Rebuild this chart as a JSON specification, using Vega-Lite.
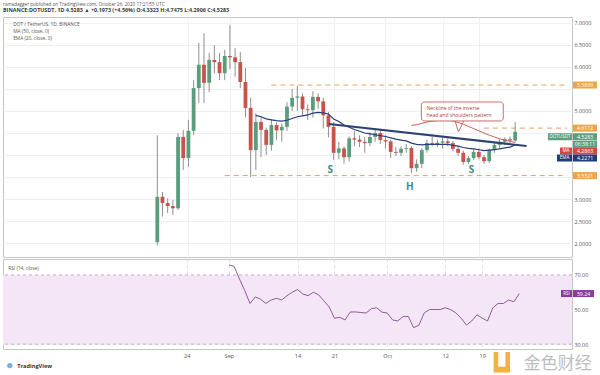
{
  "$schema": "https://vega.github.io/schema/vega-lite/v6.json",
  "background": "white",
  "padding": {"left": 2, "top": 2, "right": 0, "bottom": 0},
  "spacing": 0,
  "title": {
    "text": "ramadagger published on TradingView.com, October 26, 2020 17:21:55 UTC",
    "subtitle": "BINANCE:DOTUSDT, 1D  4.5283 ▲ +0.1973 (+4.56%)  O:4.3323  H:4.7475  L:4.2906  C:4.5283",
    "anchor": "start", "frame": "group", "offset": 3,
    "font": "Open Sans", "fontSize": 4.6, "fontWeight": "normal", "color": "#555555",
    "subtitleFont": "Open Sans", "subtitleFontSize": 5.4, "subtitleFontWeight": "bold", "subtitleColor": "#3a3a3a", "subtitlePadding": 1.5
  },
  "config": {
    "view": {"stroke": "#c6c6c6"},
    "font": "Open Sans",
    "axis": {"labelFont": "Open Sans", "labelFontSize": 5.4, "labelColor": "#555555", "gridColor": "#efefef", "domain": false, "ticks": false, "title": null, "labelOverlap": false}
  },
  "datasets": {
    "candles": [
      {"d":"2020-08-18","o":2.02,"h":4.45,"l":1.95,"c":3.05},
      {"d":"2020-08-19","o":3.05,"h":3.16,"l":2.60,"c":2.91},
      {"d":"2020-08-20","o":2.91,"h":3.02,"l":2.68,"c":2.84},
      {"d":"2020-08-21","o":2.84,"h":2.98,"l":2.64,"c":2.79},
      {"d":"2020-08-22","o":2.79,"h":4.50,"l":2.75,"c":4.41},
      {"d":"2020-08-23","o":4.41,"h":4.57,"l":3.66,"c":3.93},
      {"d":"2020-08-24","o":3.93,"h":4.80,"l":3.73,"c":4.55},
      {"d":"2020-08-25","o":4.55,"h":5.70,"l":4.45,"c":5.52},
      {"d":"2020-08-26","o":5.52,"h":6.55,"l":5.18,"c":6.05},
      {"d":"2020-08-27","o":6.05,"h":6.77,"l":5.18,"c":5.64},
      {"d":"2020-08-28","o":5.64,"h":6.32,"l":5.43,"c":6.16},
      {"d":"2020-08-29","o":6.16,"h":6.50,"l":5.86,"c":6.11},
      {"d":"2020-08-30","o":6.11,"h":6.32,"l":5.70,"c":5.86},
      {"d":"2020-08-31","o":5.86,"h":6.39,"l":5.70,"c":6.25},
      {"d":"2020-09-01","o":6.25,"h":6.95,"l":5.95,"c":6.22},
      {"d":"2020-09-02","o":6.22,"h":6.43,"l":5.78,"c":6.11},
      {"d":"2020-09-03","o":6.11,"h":6.34,"l":5.52,"c":5.66},
      {"d":"2020-09-04","o":5.66,"h":5.98,"l":4.86,"c":5.07},
      {"d":"2020-09-05","o":5.07,"h":5.30,"l":3.50,"c":4.11},
      {"d":"2020-09-06","o":4.11,"h":4.95,"l":3.66,"c":4.75},
      {"d":"2020-09-07","o":4.75,"h":4.86,"l":3.95,"c":4.57},
      {"d":"2020-09-08","o":4.57,"h":4.62,"l":4.00,"c":4.23},
      {"d":"2020-09-09","o":4.23,"h":4.80,"l":4.10,"c":4.68},
      {"d":"2020-09-10","o":4.68,"h":4.75,"l":4.34,"c":4.56},
      {"d":"2020-09-11","o":4.56,"h":4.72,"l":4.30,"c":4.64},
      {"d":"2020-09-12","o":4.64,"h":5.20,"l":4.55,"c":5.10},
      {"d":"2020-09-13","o":5.10,"h":5.50,"l":5.00,"c":5.30},
      {"d":"2020-09-14","o":5.30,"h":5.57,"l":5.00,"c":5.33},
      {"d":"2020-09-15","o":5.33,"h":5.40,"l":4.90,"c":5.04},
      {"d":"2020-09-16","o":5.04,"h":5.15,"l":4.80,"c":5.02},
      {"d":"2020-09-17","o":5.02,"h":5.45,"l":4.85,"c":5.32},
      {"d":"2020-09-18","o":5.32,"h":5.40,"l":5.05,"c":5.22},
      {"d":"2020-09-19","o":5.22,"h":5.30,"l":4.60,"c":4.90},
      {"d":"2020-09-20","o":4.90,"h":4.98,"l":4.40,"c":4.64},
      {"d":"2020-09-21","o":4.64,"h":4.75,"l":3.89,"c":4.05},
      {"d":"2020-09-22","o":4.05,"h":4.30,"l":3.90,"c":4.15},
      {"d":"2020-09-23","o":4.15,"h":4.20,"l":3.80,"c":3.95},
      {"d":"2020-09-24","o":3.95,"h":4.42,"l":3.85,"c":4.38},
      {"d":"2020-09-25","o":4.38,"h":4.55,"l":4.20,"c":4.35},
      {"d":"2020-09-26","o":4.35,"h":4.45,"l":4.18,"c":4.30},
      {"d":"2020-09-27","o":4.30,"h":4.40,"l":4.05,"c":4.27},
      {"d":"2020-09-28","o":4.27,"h":4.52,"l":4.20,"c":4.41},
      {"d":"2020-09-29","o":4.41,"h":4.60,"l":4.30,"c":4.50},
      {"d":"2020-09-30","o":4.50,"h":4.56,"l":4.25,"c":4.34},
      {"d":"2020-10-01","o":4.34,"h":4.45,"l":4.15,"c":4.31},
      {"d":"2020-10-02","o":4.31,"h":4.35,"l":3.93,"c":4.07},
      {"d":"2020-10-03","o":4.07,"h":4.18,"l":3.98,"c":4.05},
      {"d":"2020-10-04","o":4.05,"h":4.20,"l":3.98,"c":4.14},
      {"d":"2020-10-05","o":4.14,"h":4.25,"l":4.05,"c":4.16},
      {"d":"2020-10-06","o":4.16,"h":4.20,"l":3.59,"c":3.70},
      {"d":"2020-10-07","o":3.70,"h":3.90,"l":3.62,"c":3.80},
      {"d":"2020-10-08","o":3.80,"h":4.15,"l":3.70,"c":4.11},
      {"d":"2020-10-09","o":4.11,"h":4.35,"l":4.05,"c":4.27},
      {"d":"2020-10-10","o":4.27,"h":4.42,"l":4.20,"c":4.25},
      {"d":"2020-10-11","o":4.25,"h":4.35,"l":4.18,"c":4.28},
      {"d":"2020-10-12","o":4.28,"h":4.40,"l":4.15,"c":4.31},
      {"d":"2020-10-13","o":4.31,"h":4.38,"l":4.20,"c":4.27},
      {"d":"2020-10-14","o":4.27,"h":4.32,"l":4.08,"c":4.14},
      {"d":"2020-10-15","o":4.14,"h":4.20,"l":3.98,"c":4.05},
      {"d":"2020-10-16","o":4.05,"h":4.10,"l":3.78,"c":3.84},
      {"d":"2020-10-17","o":3.84,"h":3.98,"l":3.80,"c":3.93},
      {"d":"2020-10-18","o":3.93,"h":4.12,"l":3.88,"c":4.07},
      {"d":"2020-10-19","o":4.07,"h":4.15,"l":3.90,"c":3.95},
      {"d":"2020-10-20","o":3.95,"h":4.00,"l":3.80,"c":3.86},
      {"d":"2020-10-21","o":3.86,"h":4.15,"l":3.82,"c":4.11},
      {"d":"2020-10-22","o":4.11,"h":4.28,"l":4.05,"c":4.23},
      {"d":"2020-10-23","o":4.23,"h":4.36,"l":4.15,"c":4.30},
      {"d":"2020-10-24","o":4.30,"h":4.40,"l":4.22,"c":4.36},
      {"d":"2020-10-25","o":4.36,"h":4.42,"l":4.25,"c":4.3323},
      {"d":"2020-10-26","o":4.3323,"h":4.7475,"l":4.2906,"c":4.5283}
    ],
    "ema": [
      {"d":"2020-09-06","p":4.90},{"d":"2020-09-07","p":4.87},{"d":"2020-09-08","p":4.82},{"d":"2020-09-09","p":4.80},
      {"d":"2020-09-10","p":4.78},{"d":"2020-09-11","p":4.77},{"d":"2020-09-12","p":4.79},{"d":"2020-09-13","p":4.83},
      {"d":"2020-09-14","p":4.87},{"d":"2020-09-15","p":4.89},{"d":"2020-09-16","p":4.91},{"d":"2020-09-17","p":4.95},
      {"d":"2020-09-18","p":4.97},{"d":"2020-09-19","p":4.96},{"d":"2020-09-20","p":4.93},{"d":"2020-09-21","p":4.82},
      {"d":"2020-09-22","p":4.76},{"d":"2020-09-23","p":4.68},{"d":"2020-09-24","p":4.63},{"d":"2020-09-25","p":4.58},
      {"d":"2020-09-26","p":4.54},{"d":"2020-09-27","p":4.50},{"d":"2020-09-28","p":4.48},{"d":"2020-09-29","p":4.46},
      {"d":"2020-09-30","p":4.44},{"d":"2020-10-01","p":4.42},{"d":"2020-10-02","p":4.39},{"d":"2020-10-03","p":4.36},
      {"d":"2020-10-04","p":4.34},{"d":"2020-10-05","p":4.32},{"d":"2020-10-06","p":4.27},{"d":"2020-10-07","p":4.24},
      {"d":"2020-10-08","p":4.23},{"d":"2020-10-09","p":4.24},{"d":"2020-10-10","p":4.24},{"d":"2020-10-11","p":4.24},
      {"d":"2020-10-12","p":4.24},{"d":"2020-10-13","p":4.24},{"d":"2020-10-14","p":4.22},{"d":"2020-10-15","p":4.20},
      {"d":"2020-10-16","p":4.17},{"d":"2020-10-17","p":4.15},{"d":"2020-10-18","p":4.14},{"d":"2020-10-19","p":4.12},
      {"d":"2020-10-20","p":4.10},{"d":"2020-10-21","p":4.11},{"d":"2020-10-22","p":4.12},{"d":"2020-10-23","p":4.14},
      {"d":"2020-10-24","p":4.16},{"d":"2020-10-25","p":4.18},{"d":"2020-10-26","p":4.2271}
    ],
    "ma": [
      {"d":"2020-10-06","p":4.67},{"d":"2020-10-07","p":4.69},{"d":"2020-10-08","p":4.72},{"d":"2020-10-09","p":4.75},
      {"d":"2020-10-10","p":4.77},{"d":"2020-10-11","p":4.78},{"d":"2020-10-12","p":4.79},{"d":"2020-10-13","p":4.79},
      {"d":"2020-10-14","p":4.77},{"d":"2020-10-15","p":4.74},{"d":"2020-10-16","p":4.70},{"d":"2020-10-17","p":4.65},
      {"d":"2020-10-18","p":4.60},{"d":"2020-10-19","p":4.55},{"d":"2020-10-20","p":4.50},{"d":"2020-10-21","p":4.45},
      {"d":"2020-10-22","p":4.41},{"d":"2020-10-23","p":4.37},{"d":"2020-10-24","p":4.34},{"d":"2020-10-25","p":4.31},
      {"d":"2020-10-26","p":4.2863}
    ],
    "neck": [{"d":"2020-09-20T02:00:00Z","p":4.705},{"d":"2020-10-28T05:00:00Z","p":4.205}],
    "levels": [
      {"s":"2020-09-09","e":"2020-11-05","p":5.5899},
      {"s":"2020-10-20","e":"2020-11-05","p":4.6112},
      {"s":"2020-08-31","e":"2020-11-05","p":3.5321}
    ],
    "callout": [{"s":"2020-10-07T22:00:00Z","e":"2020-10-23T17:00:00Z","top":5.205,"bot":4.773}],
    "pointer": [{"d":"2020-10-14T10:00:00Z","p":4.773},{"d":"2020-10-15T02:00:00Z","p":4.523},{"d":"2020-10-16T02:00:00Z","p":4.773}],
    "callouttext": [
      {"d":"2020-10-08T22:00:00Z","p":5.079,"t":"Neckline of the inverse"},
      {"d":"2020-10-08T22:00:00Z","p":4.909,"t":"head and shoulders pattern"}
    ],
    "sh": [
      {"d":"2020-09-20T08:00:00Z","p":3.66,"t":"S"},
      {"d":"2020-10-05T17:00:00Z","p":3.27,"t":"H"},
      {"d":"2020-10-17T14:00:00Z","p":3.66,"t":"S"}
    ],
    "legend": [
      {"d":"2020-07-21T05:00:00Z","p":6.954,"t":"DOT / TetherUS, 1D, BINANCE"},
      {"d":"2020-07-21T05:00:00Z","p":6.795,"t":"MA (50, close, 0)"},
      {"d":"2020-07-21T05:00:00Z","p":6.636,"t":"EMA (20, close, 0)"}
    ],
    "lvtags": [{"p":5.5899,"t":"5.5899"},{"p":4.6112,"t":"4.6112"},{"p":3.5321,"t":"3.5321"}],
    "last": [{"p":4.5283,"t":"4.5283","n":"DOTUSDT","cd":"06:38:11"}],
    "matag": [{"p":4.2863,"t":"4.2863","n":"MA"}],
    "ematag": [{"p":4.2271,"t":"4.2271","n":"EMA"}],
    "rsi": [
      {"d":"2020-09-01","v":75.8},{"d":"2020-09-02","v":74.9},{"d":"2020-09-03","v":67.7},{"d":"2020-09-04","v":61},
      {"d":"2020-09-05","v":53.5},{"d":"2020-09-06","v":57.3},{"d":"2020-09-07","v":56},{"d":"2020-09-08","v":53.5},
      {"d":"2020-09-09","v":55.5},{"d":"2020-09-10","v":56.5},{"d":"2020-09-11","v":55.5},{"d":"2020-09-12","v":58},
      {"d":"2020-09-13","v":60},{"d":"2020-09-14","v":61.5},{"d":"2020-09-15","v":59},{"d":"2020-09-16","v":58},
      {"d":"2020-09-17","v":60},{"d":"2020-09-18","v":58.5},{"d":"2020-09-19","v":55},{"d":"2020-09-20","v":51.5},
      {"d":"2020-09-21","v":45},{"d":"2020-09-22","v":45.5},{"d":"2020-09-23","v":44},{"d":"2020-09-24","v":48.6},
      {"d":"2020-09-25","v":48.6},{"d":"2020-09-26","v":48.3},{"d":"2020-09-27","v":48},{"d":"2020-09-28","v":50.5},
      {"d":"2020-09-29","v":51},{"d":"2020-09-30","v":48.5},{"d":"2020-10-01","v":48},{"d":"2020-10-02","v":44},
      {"d":"2020-10-03","v":43.4},{"d":"2020-10-04","v":46},{"d":"2020-10-05","v":46},{"d":"2020-10-06","v":39.5},
      {"d":"2020-10-07","v":41},{"d":"2020-10-08","v":48},{"d":"2020-10-09","v":50},{"d":"2020-10-10","v":50},
      {"d":"2020-10-11","v":50},{"d":"2020-10-12","v":51},{"d":"2020-10-13","v":50},{"d":"2020-10-14","v":48},
      {"d":"2020-10-15","v":45},{"d":"2020-10-16","v":41},{"d":"2020-10-17","v":43.4},{"d":"2020-10-18","v":47},
      {"d":"2020-10-19","v":45},{"d":"2020-10-20","v":43.4},{"d":"2020-10-21","v":51},{"d":"2020-10-22","v":53.5},
      {"d":"2020-10-23","v":53.5},{"d":"2020-10-24","v":55.5},{"d":"2020-10-25","v":54.5},{"d":"2020-10-26","v":59.24}
    ],
    "rsitag": [{"v":59.24,"t":"59.24","n":"RSI"}]
  },
  "vconcat": [
    {
      "width": 569,
      "height": 240,
      "encoding": {
        "x": {"field": "d", "type": "temporal",
          "scale": {"type": "utc", "domain": [{"year":2020,"month":7,"date":20,"hours":5,"utc":true},{"year":2020,"month":11,"date":5,"utc":true}]},
          "axis": {"labels": false, "grid": true, "values": [
            {"year":2020,"month":8,"date":24,"utc":true},{"year":2020,"month":9,"date":1,"utc":true},{"year":2020,"month":9,"date":14,"utc":true},
            {"year":2020,"month":9,"date":21,"utc":true},{"year":2020,"month":10,"date":1,"utc":true},{"year":2020,"month":10,"date":12,"utc":true},
            {"year":2020,"month":10,"date":19,"utc":true}]}},
        "y": {"field": "p", "type": "quantitative",
          "scale": {"domain": [1.682, 7.136], "nice": false, "zero": false},
          "axis": {"orient": "right", "grid": true, "labelPadding": 2,
            "values": [2,2.5,3,3.5,4,4.5,5,5.5,6,6.5,7],
            "labelExpr": "indexof([2,2.5,3,5,6,6.5,7], datum.value) >= 0 ? format(datum.value, '.4f') : ''"}}
      },
      "layer": [
        {"data": {"name": "levels"}, "mark": {"type": "rule", "color": "#e5a45c", "strokeWidth": 1, "strokeDash": [5, 4]},
         "encoding": {"x": {"field": "s", "type": "temporal"}, "x2": {"field": "e"}}},
        {"data": {"name": "candles"}, "mark": {"type": "rule", "color": "#8f8f8f", "strokeWidth": 1},
         "encoding": {"y": {"field": "l", "type": "quantitative"}, "y2": {"field": "h"}}},
        {"data": {"name": "candles"}, "mark": {"type": "bar", "width": 3.8},
         "encoding": {"y": {"field": "o", "type": "quantitative"}, "y2": {"field": "c"},
           "color": {"condition": {"test": "datum.c >= datum.o", "value": "#5a9d7d"}, "value": "#c6544b"}}},
        {"data": {"name": "ema"}, "mark": {"type": "line", "color": "#263f78", "strokeWidth": 1.2}, "encoding": {}},
        {"data": {"name": "ma"}, "mark": {"type": "line", "color": "#cf5f58", "strokeWidth": 1}, "encoding": {}},
        {"data": {"name": "neck"}, "mark": {"type": "line", "color": "#2c4274", "strokeWidth": 2}, "encoding": {}},
        {"data": {"name": "pointer"}, "mark": {"type": "line", "color": "#d06b6b", "strokeWidth": 1}, "encoding": {}},
        {"data": {"name": "callout"}, "mark": {"type": "rect", "fill": "#ffffff", "stroke": "#d06b6b", "strokeWidth": 1, "cornerRadius": 3},
         "encoding": {"x": {"field": "s", "type": "temporal"}, "x2": {"field": "e"}, "y": {"field": "top", "type": "quantitative"}, "y2": {"field": "bot"}}},
        {"data": {"name": "callouttext"}, "mark": {"type": "text", "align": "left", "baseline": "middle", "fontSize": 5, "color": "#a8403c"},
         "encoding": {"text": {"field": "t"}}},
        {"data": {"name": "sh"}, "mark": {"type": "text", "fontSize": 10, "fontWeight": "bold", "color": "#3f8e7f", "align": "center", "baseline": "middle"},
         "encoding": {"text": {"field": "t"}}},
        {"data": {"name": "legend"}, "mark": {"type": "text", "align": "left", "baseline": "middle", "fontSize": 4.8, "color": "#555555"},
         "encoding": {"text": {"field": "t"}}},
        {"data": {"name": "lvtags"}, "mark": {"type": "rect", "color": "#f0a447", "xOffset": 1, "x2Offset": 25, "yOffset": -3.5, "y2Offset": 3.5},
         "encoding": {"x": {"value": "width"}, "x2": {"value": "width"}, "y2": {"field": "p"}}},
        {"data": {"name": "lvtags"}, "mark": {"type": "text", "color": "#ffffff", "fontSize": 5.2, "dx": 13, "align": "center", "baseline": "middle"},
         "encoding": {"x": {"value": "width"}, "text": {"field": "t"}}},
        {"data": {"name": "last"}, "mark": {"type": "rect", "color": "#5a9f80", "xOffset": 1, "x2Offset": 25, "yOffset": 1.5, "y2Offset": 8.5},
         "encoding": {"x": {"value": "width"}, "x2": {"value": "width"}, "y2": {"field": "p"}}},
        {"data": {"name": "last"}, "mark": {"type": "rect", "color": "#5a9f80", "xOffset": 1, "x2Offset": 25, "yOffset": 9, "y2Offset": 16},
         "encoding": {"x": {"value": "width"}, "x2": {"value": "width"}, "y2": {"field": "p"}}},
        {"data": {"name": "last"}, "mark": {"type": "rect", "color": "#5a9f80", "xOffset": -24, "x2Offset": 0, "yOffset": 1.5, "y2Offset": 8.5},
         "encoding": {"x": {"value": "width"}, "x2": {"value": "width"}, "y2": {"field": "p"}}},
        {"data": {"name": "last"}, "mark": {"type": "text", "color": "#ffffff", "fontSize": 5.2, "dx": 13, "dy": 5, "align": "center", "baseline": "middle"},
         "encoding": {"x": {"value": "width"}, "text": {"field": "t"}}},
        {"data": {"name": "last"}, "mark": {"type": "text", "color": "#ffffff", "fontSize": 5.2, "dx": 13, "dy": 12.5, "align": "center", "baseline": "middle"},
         "encoding": {"x": {"value": "width"}, "text": {"field": "cd"}}},
        {"data": {"name": "last"}, "mark": {"type": "text", "color": "#ffffff", "fontSize": 4.6, "dx": -12, "dy": 5, "align": "center", "baseline": "middle"},
         "encoding": {"x": {"value": "width"}, "text": {"field": "n"}}},
        {"data": {"name": "matag"}, "mark": {"type": "rect", "color": "#d9473f", "xOffset": 1, "x2Offset": 25, "yOffset": 5.1, "y2Offset": 12.1},
         "encoding": {"x": {"value": "width"}, "x2": {"value": "width"}, "y2": {"field": "p"}}},
        {"data": {"name": "matag"}, "mark": {"type": "rect", "color": "#d9473f", "xOffset": -12, "x2Offset": 0, "yOffset": 5.1, "y2Offset": 12.1},
         "encoding": {"x": {"value": "width"}, "x2": {"value": "width"}, "y2": {"field": "p"}}},
        {"data": {"name": "matag"}, "mark": {"type": "text", "color": "#ffffff", "fontSize": 5.2, "dx": 13, "dy": 8.6, "align": "center", "baseline": "middle"},
         "encoding": {"x": {"value": "width"}, "text": {"field": "t"}}},
        {"data": {"name": "matag"}, "mark": {"type": "text", "color": "#ffffff", "fontSize": 4.6, "dx": -6, "dy": 8.6, "align": "center", "baseline": "middle"},
         "encoding": {"x": {"value": "width"}, "text": {"field": "n"}}},
        {"data": {"name": "ematag"}, "mark": {"type": "rect", "color": "#1f3c7c", "xOffset": 1, "x2Offset": 25, "yOffset": 9.5, "y2Offset": 16.5},
         "encoding": {"x": {"value": "width"}, "x2": {"value": "width"}, "y2": {"field": "p"}}},
        {"data": {"name": "ematag"}, "mark": {"type": "rect", "color": "#1f3c7c", "xOffset": -15, "x2Offset": 0, "yOffset": 9.5, "y2Offset": 16.5},
         "encoding": {"x": {"value": "width"}, "x2": {"value": "width"}, "y2": {"field": "p"}}},
        {"data": {"name": "ematag"}, "mark": {"type": "text", "color": "#ffffff", "fontSize": 5.2, "dx": 13, "dy": 13, "align": "center", "baseline": "middle"},
         "encoding": {"x": {"value": "width"}, "text": {"field": "t"}}},
        {"data": {"name": "ematag"}, "mark": {"type": "text", "color": "#ffffff", "fontSize": 4.6, "dx": -7.5, "dy": 13, "align": "center", "baseline": "middle"},
         "encoding": {"x": {"value": "width"}, "text": {"field": "n"}}}
      ]
    },
    {
      "width": 569,
      "height": 90,
      "layer": [
        {"data": {"values": [{}]}, "mark": {"type": "rect", "color": "#f5e6f7"},
         "encoding": {
           "x": {"datum": {"year":2020,"month":7,"date":20,"hours":5,"utc":true}, "type": "temporal"},
           "x2": {"datum": {"year":2020,"month":11,"date":5,"utc":true}},
           "y": {"datum": 70, "type": "quantitative"}, "y2": {"datum": 30}}},
        {"data": {"values": [{"v": 70}, {"v": 30}]}, "mark": {"type": "rule", "color": "#a9a9a9", "strokeDash": [3, 3], "strokeWidth": 0.8},
         "encoding": {"y": {"field": "v", "type": "quantitative"}}},
        {"data": {"name": "rsi"}, "mark": {"type": "line", "color": "#8e5c98", "strokeWidth": 1},
         "encoding": {
           "x": {"field": "d", "type": "temporal",
             "scale": {"type": "utc", "domain": [{"year":2020,"month":7,"date":20,"hours":5,"utc":true},{"year":2020,"month":11,"date":5,"utc":true}]},
             "axis": {"grid": true, "gridDash": [3, 3], "gridColor": "#dddddd", "labelPadding": 4, "labelFontSize": 5.6,
               "values": [
                 {"year":2020,"month":8,"date":24,"utc":true},{"year":2020,"month":9,"date":1,"utc":true},{"year":2020,"month":9,"date":14,"utc":true},
                 {"year":2020,"month":9,"date":21,"utc":true},{"year":2020,"month":10,"date":1,"utc":true},{"year":2020,"month":10,"date":12,"utc":true},
                 {"year":2020,"month":10,"date":19,"utc":true}],
               "labelExpr": "utcdate(datum.value) == 1 ? utcFormat(datum.value, '%b') : utcFormat(datum.value, '%-d')"}},
           "y": {"field": "v", "type": "quantitative",
             "scale": {"domain": [27.2, 79.2], "nice": false, "zero": false},
             "axis": {"orient": "right", "grid": true, "labelPadding": 2, "values": [30, 40, 50, 60, 70],
               "labelExpr": "datum.value == 60 ? '' : format(datum.value, '.2f')"}}}},
        {"data": {"values": [{"d": "2020-07-21T05:00:00Z", "v": 73.4, "t": "RSI (14, close)"}]},
         "mark": {"type": "text", "align": "left", "baseline": "middle", "fontSize": 4.8, "color": "#555555"},
         "encoding": {"x": {"field": "d", "type": "temporal"}, "y": {"field": "v", "type": "quantitative"}, "text": {"field": "t"}}},
        {"data": {"name": "rsitag"}, "mark": {"type": "rect", "color": "#8b3aa3", "xOffset": 1, "x2Offset": 22, "yOffset": -3.5, "y2Offset": 3.5},
         "encoding": {"x": {"value": "width"}, "x2": {"value": "width"}, "y": {"field": "v", "type": "quantitative"}, "y2": {"field": "v"}}},
        {"data": {"name": "rsitag"}, "mark": {"type": "rect", "color": "#8b3aa3", "xOffset": -11, "x2Offset": 0, "yOffset": -3.5, "y2Offset": 3.5},
         "encoding": {"x": {"value": "width"}, "x2": {"value": "width"}, "y": {"field": "v", "type": "quantitative"}, "y2": {"field": "v"}}},
        {"data": {"name": "rsitag"}, "mark": {"type": "text", "color": "#ffffff", "fontSize": 5.2, "dx": 11.5, "align": "center", "baseline": "middle"},
         "encoding": {"x": {"value": "width"}, "y": {"field": "v", "type": "quantitative"}, "text": {"field": "t"}}},
        {"data": {"name": "rsitag"}, "mark": {"type": "text", "color": "#ffffff", "fontSize": 4.6, "dx": -5.5, "align": "center", "baseline": "middle"},
         "encoding": {"x": {"value": "width"}, "y": {"field": "v", "type": "quantitative"}, "text": {"field": "n"}}},
        {"data": {"values": [{"d": "2020-07-21T12:00:00Z", "v": 17.6}]},
         "mark": {"type": "point", "shape": "circle", "filled": true, "color": "#3b8fd4", "size": 28},
         "encoding": {"x": {"field": "d", "type": "temporal"}, "y": {"field": "v", "type": "quantitative"}}},
        {"data": {"values": [{"d": "2020-07-22T22:00:00Z", "v": 17.4, "t": "TradingView"}]},
         "mark": {"type": "text", "align": "left", "baseline": "middle", "fontSize": 5.6, "fontWeight": "bold", "color": "#333333"},
         "encoding": {"x": {"field": "d", "type": "temporal"}, "y": {"field": "v", "type": "quantitative"}, "text": {"field": "t"}}},
        {"data": {"values": [{"d": "2020-10-22T17:00:00Z", "v": 19.6}]},
         "mark": {"type": "point", "shape": "M-0.8,-1H-0.35V0.45H0.35V-1H0.8V1H-0.8Z", "filled": true, "color": "#f1aa2a", "opacity": 0.9, "size": 420, "strokeWidth": 0},
         "encoding": {"x": {"field": "d", "type": "temporal"}, "y": {"field": "v", "type": "quantitative"}}},
        {"data": {"values": [{"d": "2020-11-02T07:00:00Z", "v": 18.3, "t": "金色财经"}]},
         "mark": {"type": "text", "align": "center", "baseline": "middle", "fontSize": 17, "font": "Noto Sans CJK SC", "color": "#bdbdbd"},
         "encoding": {"x": {"field": "d", "type": "temporal"}, "y": {"field": "v", "type": "quantitative"}, "text": {"field": "t"}}}
      ]
    }
  ]
}
